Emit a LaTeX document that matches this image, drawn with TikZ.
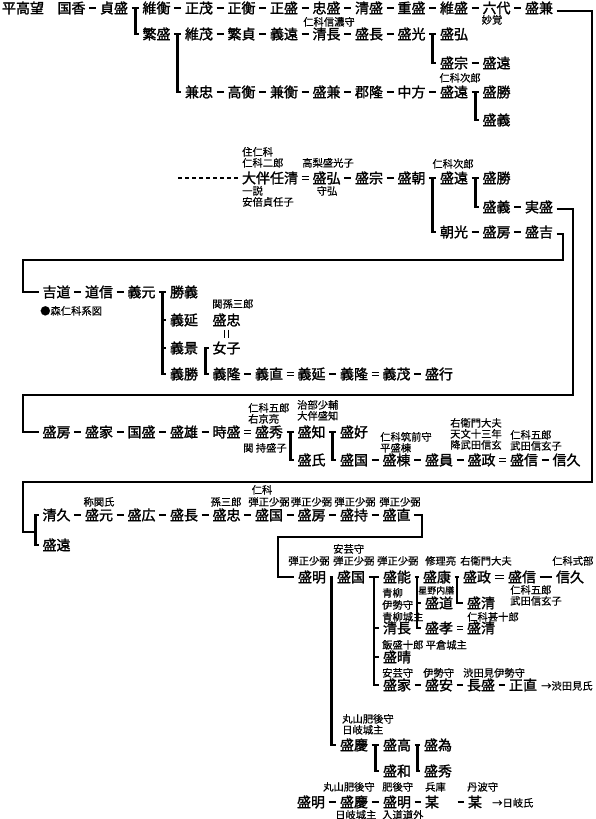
\documentclass[tikz,border=0pt]{standalone}
\usepackage{fontspec}
\setmainfont{Noto Sans CJK JP}
\newfontfamily\jpb[FakeBold=1.6]{Noto Sans CJK JP}
\newfontfamily\jps[FakeBold=0.4]{Noto Sans CJK JP}
\usetikzlibrary{calc}
\newcommand\gbrk[3]{\draw[ln] (#1) -- (#2);\coordinate (#1-b) at ($(#1.east)!.5!(#2.west)$);\draw[ln] (#1-b) |- (#3.west);}
\newcommand\gtick[2]{\draw[ln] (#1-b |- #2) -- (#2.west);}
\begin{document}
\begin{tikzpicture}[x=1pt,y=-1pt,
  nm/.style={font=\jpb\fontsize{14}{14}\selectfont, inner xsep=3.5pt, inner ysep=0pt, text height=12.3pt, text depth=1.7pt},
  sm/.style={font=\jps\fontsize{10.3}{10.3}\selectfont, inner sep=0pt, text height=8.9pt, text depth=1.4pt, anchor=west},
  smc/.style={sm, anchor=center},
  ln/.style={line width=2.8pt},
  eq/.style={line width=1.1pt, double=white, double distance=2.6pt},
  dotl/.style={line width=2.5pt, dash pattern=on 4pt off 3pt}]
\fill[white] (0,0) rectangle (595,819);
\useasboundingbox (0,0) rectangle (595,819);
% ---------- Row A
\node[nm] (hei) at (23,8) {平高望};
\node[nm] (kunika) at (71.5,8) {国香};
\node[nm] (sadamori) at (114,8) {貞盛};
\node[nm] (korehira) at (156.5,8) {維衡};
\node[nm] (masamochi) at (199,8) {正茂};
\node[nm] (masahira) at (241.5,8) {正衡};
\node[nm] (masamori) at (284,8) {正盛};
\node[nm] (tadamori) at (326.5,8) {忠盛};
\node[nm] (kiyomori) at (369,8) {清盛};
\node[nm] (shigemori) at (411.5,8) {重盛};
\node[nm] (koremori) at (454,8) {維盛};
\node[nm] (rokudai) at (496.5,8) {六代};
\node[nm] (morikane) at (539,8) {盛兼};
\node[smc] (myokaku) at (492,20) {妙覚};
% ---------- Row B
\node[nm] (shigemori2) at (156.5,34) {繁盛};
\node[nm] (koremochi) at (199,34) {維茂};
\node[nm] (shigesada) at (241.5,34) {繁貞};
\node[nm] (yoshito) at (284,34) {義遠};
\node[nm] (kiyonaga) at (326.5,34) {清長};
\node[smc] (l-shinano) at (329,22) {仁科信濃守};
\node[nm] (morinaga) at (369,34) {盛長};
\node[nm] (morimitsu) at (411.5,34) {盛光};
\node[nm] (morihiro) at (454,34) {盛弘};
\node[nm] (morimune) at (454,63) {盛宗};
\node[nm] (moritoo1) at (496.5,63) {盛遠};
% ---------- Row C
\node[nm] (kanetada) at (199,92) {兼忠};
\node[nm] (takahira) at (241.5,92) {高衡};
\node[nm] (kanehira) at (284,92) {兼衡};
\node[nm] (morikane2) at (326.5,92) {盛兼};
\node[nm] (koritaka) at (369,92) {郡隆};
\node[nm] (nakakata) at (411.5,92) {中方};
\node[nm] (moritoo2) at (454,92) {盛遠};
\node[smc] (l-jiro1) at (460,78) {仁科次郎};
\node[nm] (morikatsu) at (496.5,92) {盛勝};
\node[nm] (moriyoshi) at (496.5,120) {盛義};
% ---------- Otomo
\coordinate (dstart) at (178,178);
\node[nm] (ootomo) at (270,178) {大伴任清};
\node[sm] at (242,152) {住仁科};
\node[sm] at (242,163) {仁科二郎};
\node[sm] at (242,191) {一説};
\node[sm] at (242,202) {安倍貞任子};
\node[nm] (morihiro2) at (326.5,178) {盛弘};
\node[smc] at (328,163) {高梨盛光子};
\node[smc] at (327,191) {守弘};
\node[nm] (morimune2) at (369,178) {盛宗};
\node[nm] (moritomo) at (411.5,178) {盛朝};
\node[nm] (moritoo4) at (454,178) {盛遠};
\node[smc] at (453,164) {仁科次郎};
\node[nm] (morikatsu2) at (496.5,178) {盛勝};
\node[nm] (moriyoshi2) at (496.5,207) {盛義};
\node[nm] (sanemori) at (539,207) {実盛};
\node[nm] (tomomitsu) at (454,232) {朝光};
\node[nm] (morifusa1) at (496.5,232) {盛房};
\node[nm] (moriyoshi3) at (539,232) {盛吉};
% ---------- Row E
\node[nm] (yoshimichi) at (56.5,292) {吉道};
\node[nm] (michinobu) at (99,292) {道信};
\node[nm] (yoshimoto) at (141.5,292) {義元};
\node[nm] (katsuyoshi) at (184,292) {勝義};
\node[nm] (yoshinobu) at (184,320) {義延};
\node[nm] (yoshikage) at (184,348) {義景};
\node[nm] (yoshikatsu) at (184,374) {義勝};
\node[sm] at (40,311) {●森仁科系図};
\node[sm] at (212,304) {関孫三郎};
\node[nm] (moritada) at (226.5,320) {盛忠};
\node[nm] (joshi) at (226.5,348) {女子};
\node[nm] (yoshitaka) at (226.5,374) {義隆};
\node[nm] (yoshinao) at (269,374) {義直};
\node[nm] (yoshinobu2) at (311.5,374) {義延};
\node[nm] (yoshitaka2) at (354,374) {義隆};
\node[nm] (yoshishige) at (396.5,374) {義茂};
\node[nm] (moriyuki) at (439,374) {盛行};
% ---------- Row F
\node[nm] (morifusa2) at (56.5,432) {盛房};
\node[nm] (moriie) at (99,432) {盛家};
\node[nm] (kunimori) at (141.5,432) {国盛};
\node[nm] (morio) at (184,432) {盛雄};
\node[nm] (tokimori) at (226.5,432) {時盛};
\node[nm] (morihide) at (269,432) {盛秀};
\node[sm] at (248,408) {仁科五郎};
\node[sm] at (248,419) {右京亮};
\node[sm] at (243,448) {関 持盛子};
\node[nm] (moritomo2) at (311.5,432) {盛知};
\node[sm] at (297,405) {治部少輔};
\node[sm] at (297,416) {大伴盛知};
\node[nm] (moriuji) at (311.5,460) {盛氏};
\node[nm] (moriyoshi4) at (354,432) {盛好};
\node[nm] (morikuni) at (354,460) {盛国};
\node[nm] (morimune3) at (396.5,460) {盛棟};
\node[sm] at (380,437) {仁科筑前守};
\node[sm] at (380,448) {平盛棟};
\node[nm] (morikazu) at (439,460) {盛員};
\node[nm] (morimasa) at (481.5,460) {盛政};
\node[sm] at (450,423) {右衛門大夫};
\node[sm] at (450,434) {天文十三年};
\node[sm] at (450,445) {降武田信玄};
\node[nm] (morinobu) at (524,460) {盛信};
\node[sm] at (510,435) {仁科五郎};
\node[sm] at (510,446) {武田信玄子};
\node[nm] (nobuhisa) at (566.5,460) {信久};
% ---------- Row G
\node[nm] (kiyohisa) at (56.5,515) {清久};
\node[nm] (moritoo3) at (56.5,545) {盛遠};
\node[nm] (morimoto) at (99,515) {盛元};
\node[smc] at (99,502) {称関氏};
\node[nm] (morihiro3) at (141.5,515) {盛広};
\node[nm] (morinaga2) at (184,515) {盛長};
\node[nm] (moritada2) at (226.5,515) {盛忠};
\node[smc] at (226,502) {孫三郎};
\node[nm] (morikuni2) at (269,515) {盛国};
\node[smc] at (262,490) {仁科};
\node[smc] at (269,502) {弾正少弼};
\node[nm] (morifusa3) at (311.5,515) {盛房};
\node[smc] at (311.5,502) {弾正少弼};
\node[nm] (morimochi) at (354,515) {盛持};
\node[smc] at (355,502) {弾正少弼};
\node[nm] (morinao) at (396.5,515) {盛直};
\node[smc] at (400,502) {弾正少弼};
% ---------- Row H
\node[nm] (moriaki) at (312,577) {盛明};
\node[smc] at (309,561) {弾正少弼};
\node[nm] (morikuni3) at (351,577) {盛国};
\node[sm] at (333,549) {安芸守};
\node[sm] at (333,561) {弾正少弼};
\node[nm] (moriyoshi5) at (397,577) {盛能};
\node[sm] at (377,561) {弾正少弼};
\node[nm] (moriyasu) at (437,577) {盛康};
\node[sm] at (425,561) {修理亮};
\node[nm] (morimasa2) at (477,577) {盛政};
\node[sm] at (460,561) {右衛門大夫};
\node[nm] (morinobu2) at (522,577) {盛信};
\node[nm] (nobuhisa2) at (570,577) {信久};
\node[sm] at (552,561) {仁科式部};
\node[nm] (morimichi) at (439,603) {盛道};
\node[sm, font=\jps\fontsize{9}{9}\selectfont] at (418,590) {星野内膳};
\node[nm] (morikiyo) at (481,603) {盛清};
\node[sm] at (510,590) {仁科五郎};
\node[sm] at (510,601) {武田信玄子};
\node[sm] at (382,593) {青柳};
\node[sm] at (382,605) {伊勢守};
\node[sm] at (382,617) {青柳城主};
\node[nm] (kiyonaga2) at (397,628) {清長};
\node[nm] (moritaka) at (439,628) {盛孝};
\node[nm] (morikiyo2) at (481,628) {盛清};
\node[sm] at (467,617) {仁科甚十郎};
\node[sm] at (382,645) {飯盛十郎 平倉城主};
\node[nm] (moriharu) at (397,657) {盛晴};
\node[sm] at (382,673) {安芸守};
\node[sm] at (423,673) {伊勢守};
\node[sm] at (463,673) {渋田見伊勢守};
\node[nm] (moriie2) at (397,685) {盛家};
\node[nm] (moriyasu2) at (439,685) {盛安};
\node[nm] (nagamori) at (481,685) {長盛};
\node[nm] (masanao) at (523,685) {正直};
\node[sm] at (541,686) {→渋田見氏};
\node[sm] at (342,719) {丸山肥後守};
\node[sm] at (342,730) {日岐城主};
\node[nm] (moriyoshi6) at (354,745) {盛慶};
\node[nm] (moritaka2) at (397,745) {盛高};
\node[nm] (moritame) at (438,745) {盛為};
\node[nm] (moriwa) at (397,771) {盛和};
\node[nm] (morihide2) at (438,771) {盛秀};
% ---------- last row
\node[sm] at (323,787) {丸山肥後守};
\node[sm] at (382,787) {肥後守};
\node[sm] at (425,787) {兵庫};
\node[sm] at (467,787) {丹波守};
\node[nm] (moriaki2) at (311,802) {盛明};
\node[nm] (moriyoshi7) at (354,802) {盛慶};
\node[nm] (moriaki3) at (397,802) {盛明};
\node[nm] (bou1) at (432,802) {某};
\node[nm] (bou2) at (475,802) {某};
\node[sm] at (492,803) {→日岐氏};
\node[sm] at (335,815) {日岐城主};
\node[sm] at (382,815) {入道道外};
% ================= connectors
% Row A
\draw[ln] (kunika) -- (sadamori);
\gbrk{sadamori}{korehira}{shigemori2}
\draw[ln] (korehira) -- (masamochi);
\draw[ln] (masamochi) -- (masahira);
\draw[ln] (masahira) -- (masamori);
\draw[ln] (masamori) -- (tadamori);
\draw[ln] (tadamori) -- (kiyomori);
\draw[ln] (kiyomori) -- (shigemori);
\draw[ln] (shigemori) -- (koremori);
\draw[ln] (koremori) -- (rokudai);
\draw[ln] (rokudai) -- (morikane);
% Row B / C
\gbrk{shigemori2}{koremochi}{kanetada}
\draw[ln] (koremochi) -- (shigesada);
\draw[ln] (shigesada) -- (yoshito);
\draw[ln] (yoshito) -- (kiyonaga);
\draw[ln] (kiyonaga) -- (morinaga);
\draw[ln] (morinaga) -- (morimitsu);
\gbrk{morimitsu}{morihiro}{morimune}
\draw[ln] (morimune) -- (moritoo1);
\draw[ln] (kanetada) -- (takahira);
\draw[ln] (takahira) -- (kanehira);
\draw[ln] (kanehira) -- (morikane2);
\draw[ln] (morikane2) -- (koritaka);
\draw[ln] (koritaka) -- (nakakata);
\draw[ln] (nakakata) -- (moritoo2);
\gbrk{moritoo2}{morikatsu}{moriyoshi}
% Otomo
\draw[dotl] (dstart) -- (ootomo.west);
\draw[eq] (ootomo) -- (morihiro2);
\draw[ln] (morihiro2) -- (morimune2);
\draw[ln] (morimune2) -- (moritomo);
\gbrk{moritomo}{moritoo4}{tomomitsu}
\gbrk{moritoo4}{morikatsu2}{moriyoshi2}
\draw[ln] (moriyoshi2) -- (sanemori);
\draw[ln] (tomomitsu) -- (morifusa1);
\draw[ln] (morifusa1) -- (moriyoshi3);
% long routes
\draw[ln] ([yshift=-3pt]morikane.east) -| (592,482) -| (23,532) -- (35.5,532);
\draw[ln] ([yshift=-2pt]sanemori.east) -| (573,395) -| (23,432) -- (morifusa2.west);
\draw[ln] ([yshift=-2pt]moriyoshi3.east) -| (563,260) -| (23,292) -- (yoshimichi.west);
\draw[ln] (morinao.east) -| (422,537) -| (278,577) -- (moriaki.west);
% Row E
\draw[ln] (yoshimichi) -- (michinobu);
\draw[ln] (michinobu) -- (yoshimoto);
\gbrk{yoshimoto}{katsuyoshi}{yoshikatsu}
\gtick{yoshimoto}{yoshinobu}
\gtick{yoshimoto}{yoshikage}
\draw[eq, shorten <=2.5pt, shorten >=2.5pt] (moritada) -- (joshi);
\coordinate (yk-b) at ($(yoshikatsu.east)!.5!(yoshitaka.west)$);
\draw[ln] (joshi.west) -| (yk-b) -- (yoshitaka.west);
\draw[ln] (yoshitaka) -- (yoshinao);
\draw[eq] (yoshinao) -- (yoshinobu2);
\draw[ln] (yoshinobu2) -- (yoshitaka2);
\draw[eq] (yoshitaka2) -- (yoshishige);
\draw[ln] (yoshishige) -- (moriyuki);
% Row F
\draw[ln] (morifusa2) -- (moriie);
\draw[ln] (moriie) -- (kunimori);
\draw[ln] (kunimori) -- (morio);
\draw[ln] (morio) -- (tokimori);
\draw[eq] (tokimori) -- (morihide);
\gbrk{morihide}{moritomo2}{moriuji}
\gbrk{moritomo2}{moriyoshi4}{morikuni}
\draw[ln] (morikuni) -- (morimune3);
\draw[ln] (morimune3) -- (morikazu);
\draw[ln] (morikazu) -- (morimasa);
\draw[eq] (morimasa) -- (morinobu);
\draw[ln] (morinobu) -- (nobuhisa);
% Row G
\draw[ln] (kiyohisa.west) -- (35.5,515) |- (moritoo3.west);
\draw[ln] (kiyohisa) -- (morimoto);
\draw[ln] (morimoto) -- (morihiro3);
\draw[ln] (morihiro3) -- (morinaga2);
\draw[ln] (morinaga2) -- (moritada2);
\draw[ln] (moritada2) -- (morikuni2);
\draw[ln] (morikuni2) -- (morifusa3);
\draw[ln] (morifusa3) -- (morimochi);
\draw[ln] (morimochi) -- (morinao);
% Row H
\gbrk{moriaki}{morikuni3}{moriyoshi6}
\gbrk{morikuni3}{moriyoshi5}{moriie2}
\gtick{morikuni3}{kiyonaga2}
\gtick{morikuni3}{moriharu}
\gbrk{moriyoshi5}{moriyasu}{moritaka}
\gtick{moriyoshi5}{morimichi}
\gbrk{moriyasu}{morimasa2}{morikiyo}
\draw[eq] (morimasa2) -- (morinobu2);
\draw[ln] (morinobu2) -- (nobuhisa2);
\draw[eq] (moritaka) -- (morikiyo2);
\draw[ln] (moriie2) -- (moriyasu2);
\draw[ln] (moriyasu2) -- (nagamori);
\draw[ln] (nagamori) -- (masanao);
\gbrk{moriyoshi6}{moritaka2}{moriwa}
\gbrk{moritaka2}{moritame}{morihide2}
% last row
\draw[ln] (moriaki2) -- (moriyoshi7);
\draw[ln] (moriyoshi7) -- (moriaki3);
\draw[ln] (moriaki3) -- (bou1);
\draw[ln, shorten <=15pt] (bou1) -- (bou2);
\end{tikzpicture}
\end{document}
